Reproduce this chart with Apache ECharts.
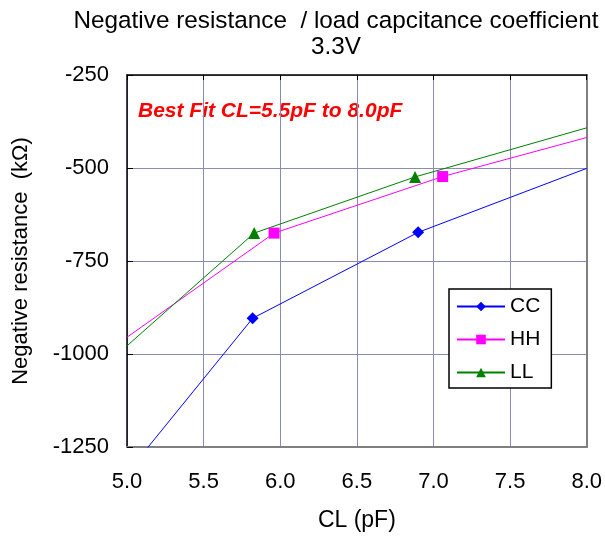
<!DOCTYPE html>
<html>
<head>
<meta charset="utf-8">
<script src="https://cdn.jsdelivr.net/npm/echarts@6/dist/echarts.min.js"></script>
<style>html,body{margin:0;padding:0;background:#fff}#c{width:605px;height:538px}</style>
</head>
<body>
<div id="c"></div>
<script>
var titleText = 'Negative resistance  / load capcitance coefficient\n3.3V';
var xName = 'CL (pF)';
var yName = 'Negative resistance  (k\u03A9)';
var note = 'Best Fit CL=5.5pF to 8.0pF';
var seriesNames = ['CC', 'HH', 'LL'];
// [CL, value]; first and last points are trend-line ends (no marker)
var ccData = [[5.0, -1320], [5.82, -904], [6.90, -673], [8.0, -501]];
var hhData = [[5.0, -955], [5.96, -675], [7.06, -523], [8.0, -418]];
var llData = [[5.0, -978], [5.83, -675], [6.88, -524], [8.0, -392]];
var xMin = 5.0, xMax = 8.0, xStep = 0.5;
var yMin = -1250, yMax = -250, yStep = 250;

var colors = ['#0000ff', '#ff00ff', '#008000'];
var symbols = ['diamond', 'rect', 'triangle'];
var sizes = [12, 11, 12];
var datas = [ccData, hhData, llData];
var font = 'Liberation Sans, Arial, sans-serif';

function mk(d) {
  return d.map(function (p, i) {
    var o = { value: p };
    if (i === 0 || i === d.length - 1) { o.symbol = 'none'; }
    return o;
  });
}

var chart = echarts.init(document.getElementById('c'));
var gridColor = '#8a8ab2';
chart.setOption({
  animation: false,
  backgroundColor: '#fff',
  title: {
    text: titleText, left: 331, top: 3, textAlign: 'center',
    textStyle: { fontFamily: font, fontSize: 24.3, fontWeight: 'normal', color: '#000', lineHeight: 26 }
  },
  grid: { left: 127, right: 17, top: 75, bottom: 91 },
  legend: {
    data: seriesNames, orient: 'vertical', left: 449, top: 289,
    backgroundColor: '#fff', borderColor: '#000', borderWidth: 1.5, borderRadius: 0,
    padding: [7, 11, 5, 7], itemGap: 12, itemWidth: 48, itemHeight: 12,
    textStyle: { fontFamily: font, fontSize: 21, color: '#000' }
  },
  xAxis: [{
    type: 'value', min: xMin, max: xMax, interval: xStep,
    name: xName, nameLocation: 'middle', nameGap: 62,
    nameTextStyle: { fontFamily: font, fontSize: 23, color: '#000' },
    axisLine: { show: true, onZero: false, lineStyle: { color: '#808080', width: 2 } },
    axisTick: { show: false },
    axisLabel: { margin: 24, fontFamily: font, fontSize: 22, color: '#000', formatter: function (v) { return v.toFixed(1); } },
    splitLine: { show: true, lineStyle: { color: gridColor, width: 1 } }
  }, {
    type: 'value', min: xMin, max: xMax, interval: xStep, position: 'top',
    axisLine: { show: true, onZero: false, lineStyle: { color: '#000', width: 1.5 } },
    axisTick: { show: true, inside: true, length: 5, lineStyle: { color: '#000' } },
    axisLabel: { show: false }, splitLine: { show: false }
  }],
  yAxis: [{
    type: 'value', min: yMin, max: yMax, interval: yStep,
    name: yName, nameLocation: 'middle', nameGap: 95, nameRotate: 90,
    nameTextStyle: { fontFamily: font, fontSize: 22, color: '#000' },
    axisLine: { show: true, onZero: false, lineStyle: { color: '#000', width: 1.5 } },
    axisTick: { show: true, inside: true, length: 6, lineStyle: { color: '#000' } },
    axisLabel: { margin: 18, fontFamily: font, fontSize: 22, color: '#000', formatter: function (v) { return String(v); } },
    splitLine: { show: true, lineStyle: { color: gridColor, width: 1 } }
  }, {
    type: 'value', min: yMin, max: yMax, interval: yStep, position: 'right',
    axisLine: { show: true, onZero: false, lineStyle: { color: '#808080', width: 2 } },
    axisTick: { show: false }, axisLabel: { show: false }, splitLine: { show: false }
  }],
  graphic: [{
    type: 'text', left: 138, top: 101,
    style: { text: note, fill: '#ff0000', font: 'italic bold 21px Liberation Sans, Arial, sans-serif' }
  }],
  series: seriesNames.map(function (n, i) {
    return {
      name: n, type: 'line', data: mk(datas[i]), clip: true,
      symbol: symbols[i], symbolSize: sizes[i], showAllSymbol: true,
      lineStyle: { color: colors[i], width: 1 },
      itemStyle: { color: colors[i] },
      emphasis: { disabled: true }
    };
  })
});
</script>
</body>
</html>
